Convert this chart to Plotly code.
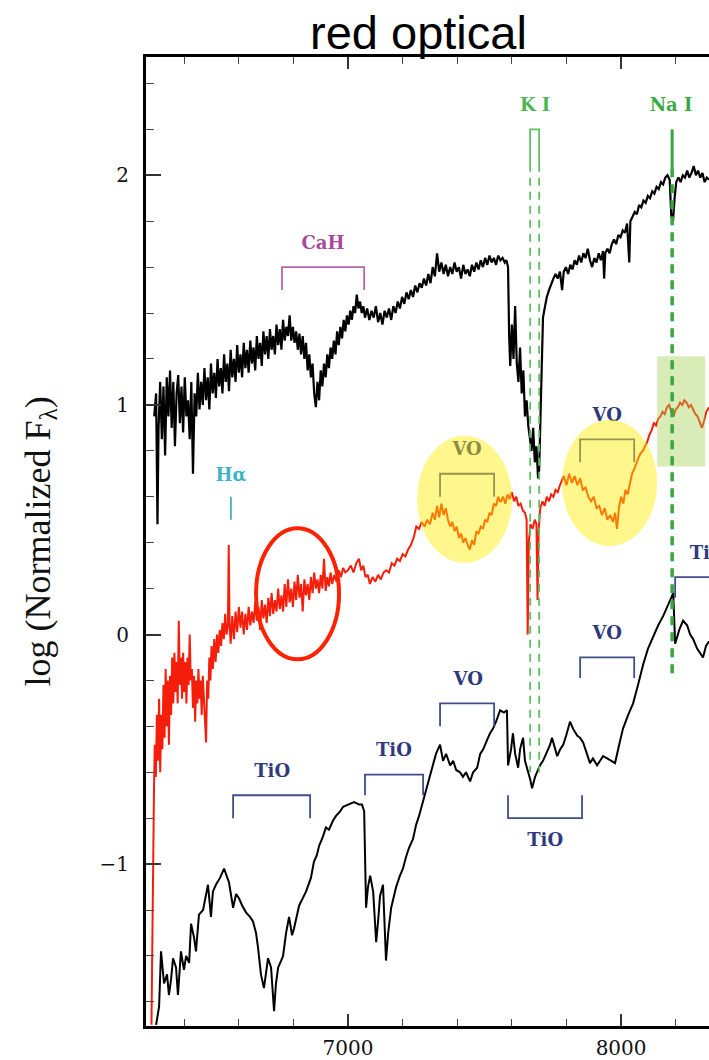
import plotly.graph_objects as go

# ---------------- data ----------------
TOP_WL = [6290,6297,6302,6306,6312,6318,6324,6330,6336,6342,6348,6354,6360,6366,6372,6378,6384,6390,6396,6402,
          6408,6414,6420,6426,6432,6438,6444,6450,6456,6462,6468,6474,6480,6486,6492,6498,6504,6510,6516,6522,
          6528,6534,6540,6546,6552,6558,6564,6570,6576,6582,6588,6594,6600,6606,6612,6618,6624,6630,6636,6642,
          6648,6654,6660,6666,6672,6678,6684,6690,6696,6702,6708,6714,6720,6726,6732,6738,6744,6750,6756,6762,
          6768,6774,6780,6786,6792,6798,6804,6810,6816,6822,6828,6834,6840,6846,6852,6858,6864,6870,6876,6882,
          6888,6894,6900,6906,6912,6918,6924,6930,6936,6942,6948,6954,6960,6966,6972,6978,6984,6990,6996,7002,
          7008,7014,7020,7026,7032,7038,7044,7050,7056,7062,7070,7078,7086,7094,7102,7110,7118,7126,7134,7142,
          7150,7158,7166,7174,7182,7190,7198,7206,7214,7222,7230,7238,7246,7254,7262,7270,7278,7286,7294,7302,
          7310,7318,7326,7334,7342,7350,7358,7366,7374,7382,7390,7398,7406,7414,7422,7430,7438,7446,7454,7462,
          7470,7478,7486,7494,7502,7510,7518,7526,7534,7542,7550,7558,7566,7574,7580,7586,7590,7594,7600,7606,
          7612,7618,7624,7630,7636,7642,7648,7654,7660,7666,7672,7678,7684,7690,7696,7700,7705,7710,7714,7720,
          7728,7736,7744,7752,7760,7768,7776,7784,7790,7798,7806,7814,7822,7830,7838,7846,7854,7862,7870,7878,
          7886,7894,7902,7910,7918,7926,7934,7938,7942,7950,7958,7966,7974,7982,7990,7998,8006,8014,8022,8030,
          8034,8042,8050,8058,8066,8074,8082,8090,8098,8106,8114,8122,8130,8138,8146,8154,8162,8170,8178,8184,
          8190,8196,8202,8210,8218,8226,8234,8242,8250,8258,8266,8274,8282,8290,8298,8306,8314,8322]
TOP_FLUX = [0.95,1.05,0.48,0.90,1.10,0.85,1.08,0.78,1.12,0.95,1.15,0.90,1.10,0.82,1.05,1.13,0.92,1.08,0.88,1.12,
            0.95,1.02,0.85,1.10,0.70,1.05,0.95,1.14,0.98,1.10,1.00,1.16,1.02,1.12,0.98,1.18,1.05,1.14,1.03,1.20,
            1.08,1.16,1.05,1.22,1.10,1.18,1.06,1.24,1.12,1.20,1.10,1.26,1.14,1.22,1.12,1.27,1.16,1.24,1.14,1.28,
            1.18,1.25,1.15,1.30,1.20,1.27,1.17,1.32,1.22,1.30,1.20,1.33,1.24,1.30,1.22,1.35,1.26,1.33,1.24,1.37,
            1.28,1.34,1.30,1.39,1.28,1.34,1.27,1.32,1.24,1.31,1.22,1.30,1.20,1.27,1.15,1.22,1.12,1.18,1.05,0.99,
            1.10,1.02,1.15,1.08,1.18,1.12,1.22,1.16,1.25,1.20,1.28,1.22,1.32,1.26,1.34,1.29,1.37,1.32,1.39,1.35,
            1.41,1.37,1.43,1.40,1.48,1.42,1.45,1.40,1.43,1.38,1.42,1.37,1.41,1.38,1.43,1.36,1.40,1.35,1.41,1.38,
            1.42,1.37,1.43,1.40,1.45,1.42,1.47,1.44,1.49,1.46,1.50,1.47,1.52,1.49,1.53,1.51,1.55,1.52,1.57,1.53,
            1.60,1.56,1.66,1.58,1.62,1.57,1.61,1.56,1.60,1.57,1.62,1.58,1.60,1.55,1.61,1.57,1.59,1.56,1.61,1.58,
            1.62,1.59,1.63,1.60,1.64,1.61,1.65,1.62,1.64,1.61,1.65,1.63,1.64,1.62,1.63,1.60,1.30,1.17,1.35,1.20,
            1.43,1.18,1.10,1.25,1.05,1.15,0.95,1.02,0.91,0.85,0.80,0.90,0.75,0.82,0.68,0.72,0.95,1.20,1.38,1.42,
            1.47,1.50,1.53,1.55,1.57,1.55,1.58,1.50,1.58,1.60,1.57,1.61,1.59,1.63,1.61,1.65,1.62,1.66,1.64,1.68,
            1.63,1.60,1.64,1.62,1.66,1.63,1.67,1.55,1.66,1.68,1.66,1.70,1.72,1.70,1.74,1.73,1.76,1.75,1.79,1.62,
            1.80,1.82,1.84,1.83,1.87,1.86,1.89,1.88,1.91,1.90,1.93,1.92,1.95,1.94,1.97,1.96,1.99,2.00,1.98,1.82,
            1.80,1.90,1.97,1.99,1.97,2.00,1.99,2.02,1.99,2.01,2.04,2.00,2.02,1.99,2.01,1.97,1.99,1.98]

MID_WL = [6280,6283,6286,6289,6292,6296,6300,6304,6308,6312,6316,6320,6324,6328,6332,6336,6340,6344,6348,6352,
          6356,6360,6364,6368,6372,6376,6380,6384,6388,6392,6396,6400,6404,6408,6412,6416,6420,6424,6428,6432,
          6436,6440,6444,6448,6452,6456,6460,6464,6468,6472,6476,6480,6484,6488,6492,6496,6500,6505,6510,6515,
          6520,6525,6530,6535,6540,6545,6550,6555,6560,6563,6566,6570,6576,6582,6588,6594,6600,6606,6612,6618,
          6624,6630,6636,6642,6648,6654,6660,6666,6672,6678,6684,6690,6696,6702,6708,6714,6720,6726,6732,6738,
          6744,6750,6756,6762,6768,6774,6780,6786,6792,6798,6804,6810,6816,6822,6828,6834,6840,6846,6852,6858,
          6864,6870,6876,6882,6888,6894,6900,6906,6912,6918,6924,6930,6936,6942,6950,6958,6966,6974,6982,6990,
          7000,7010,7020,7030,7040,7048,7056,7064,7072,7080,7090,7100,7110,7120,7130,7140,7150,7160,7170,7180,
          7190,7200,7210,7220,7230,7240,7250,7260,7270,7280,7290,7300,7310,7318,7326,7334,7342,7350,7358,7366,
          7374,7382,7390,7398,7406,7414,7422,7430,7438,7446,7454,7462,7470,7478,7486,7494,7502,7510,7518,7526,
          7534,7542,7550,7556,7560,7568,7576,7584,7592,7600,7608,7616,7624,7632,7640,7648,7654,7658,7662,7668,
          7676,7684,7690,7694,7698,7704,7712,7720,7728,7736,7744,7752,7760,7768,7776,7780,7790,7800,7810,7820,
          7830,7840,7850,7860,7870,7880,7890,7900,7910,7920,7930,7940,7950,7960,7970,7978,7985,7992,8000,8008,
          8016,8024,8032,8040,8048,8056,8064,8072,8080,8088,8096,8104,8112,8120,8128,8136,8144,8152,8160,8168,
          8176,8184,8192,8200,8208,8216,8224,8232,8240,8248,8256,8264,8272,8280,8288,8296,8304,8312,8322]
MID_FLUX = [-1.70,-1.30,-0.95,-0.70,-0.48,-0.62,-0.35,-0.55,-0.28,-0.60,-0.35,-0.50,-0.22,-0.45,-0.15,-0.40,-0.20,-0.48,-0.18,-0.35,
            -0.10,-0.30,-0.08,-0.25,-0.12,-0.30,0.06,-0.22,-0.10,-0.28,-0.08,-0.25,-0.12,-0.30,-0.10,-0.22,0.00,-0.20,-0.15,-0.32,
            -0.18,-0.38,-0.20,-0.30,-0.15,-0.28,-0.20,-0.35,-0.18,-0.30,-0.40,-0.47,-0.20,-0.28,-0.10,-0.20,-0.05,-0.15,-0.02,-0.12,
            0.00,-0.08,0.02,-0.05,0.05,-0.02,0.09,0.00,0.04,0.39,0.05,-0.04,0.08,-0.02,0.10,0.01,0.12,0.03,0.10,0.00,
            0.09,0.02,0.12,0.04,0.10,0.05,0.14,0.06,0.12,0.02,0.15,0.07,0.13,0.05,0.16,0.08,0.18,0.09,0.15,0.10,
            0.20,0.11,0.17,0.10,0.22,0.12,0.24,0.14,0.20,0.12,0.23,0.15,0.26,0.16,0.22,0.10,0.24,0.17,0.22,0.15,
            0.25,0.18,0.27,0.20,0.24,0.18,0.26,0.20,0.33,0.19,0.25,0.21,0.27,0.22,0.26,0.23,0.28,0.25,0.29,0.27,
            0.28,0.30,0.27,0.31,0.33,0.28,0.30,0.25,0.26,0.22,0.25,0.23,0.26,0.24,0.27,0.28,0.27,0.31,0.30,0.33,
            0.32,0.35,0.34,0.37,0.39,0.42,0.47,0.46,0.49,0.47,0.50,0.48,0.53,0.50,0.56,0.51,0.57,0.52,0.55,0.50,
            0.47,0.49,0.45,0.47,0.42,0.44,0.40,0.42,0.39,0.37,0.41,0.39,0.45,0.44,0.47,0.46,0.50,0.49,0.53,0.52,
            0.57,0.56,0.60,0.58,0.58,0.60,0.57,0.61,0.59,0.62,0.58,0.60,0.56,0.57,0.54,0.53,0.50,0.00,0.40,0.48,
            0.46,0.50,0.48,0.15,0.45,0.55,0.58,0.56,0.60,0.58,0.61,0.60,0.63,0.62,0.65,0.66,0.69,0.65,0.70,0.66,
            0.69,0.65,0.68,0.63,0.64,0.60,0.58,0.60,0.55,0.56,0.52,0.55,0.50,0.52,0.49,0.53,0.46,0.55,0.60,0.57,
            0.63,0.61,0.65,0.70,0.72,0.75,0.77,0.79,0.80,0.82,0.84,0.87,0.89,0.92,0.91,0.94,0.95,0.97,0.96,0.99,
            1.00,0.97,0.95,0.98,0.99,1.01,1.00,1.02,1.01,0.99,1.00,0.98,0.96,0.95,0.92,0.90,0.93,0.97,0.99]

BOT_WL = [6297,6308,6315,6326,6337,6344,6352,6359,6370,6377,6388,6399,6407,6418,6425,6436,6443,6454,6469,6480,
          6487,6498,6505,6516,6531,6546,6564,6579,6590,6601,6612,6626,6641,6652,6663,6670,6681,6692,6700,6707,
          6718,6729,6736,6744,6755,6762,6773,6784,6795,6802,6821,6832,6846,6864,6875,6886,6894,6908,6919,6930,
          6945,6956,6971,6982,7004,7022,7040,7051,7059,7066,7073,7081,7092,7103,7110,7117,7128,7139,7147,7158,
          7168,7176,7190,7201,7212,7223,7238,7249,7260,7271,7282,7289,7300,7311,7322,7337,7348,7359,7374,7385,
          7396,7410,7421,7432,7447,7458,7473,7484,7495,7509,7520,7531,7542,7557,7571,7582,7586,7597,7604,7612,
          7623,7630,7641,7648,7656,7667,7674,7685,7703,7714,7729,7740,7747,7758,7766,7777,7788,7799,7813,7824,
          7839,7850,7861,7875,7886,7897,7912,7923,7934,7949,7963,7978,7993,8007,8026,8044,8062,8081,8099,8117,
          8136,8154,8172,8191,8198,8213,8227,8242,8253,8264,8278,8289,8300,8311,8322]
BOT_FLUX = [-1.70,-1.62,-1.38,-1.52,-1.48,-1.57,-1.50,-1.41,-1.45,-1.57,-1.38,-1.46,-1.40,-1.43,-1.26,-1.32,-1.38,-1.22,-1.20,-1.14,
            -1.09,-1.23,-1.12,-1.09,-1.06,-1.02,-1.08,-1.19,-1.13,-1.15,-1.18,-1.21,-1.23,-1.25,-1.30,-1.36,-1.48,-1.54,-1.47,-1.41,
            -1.45,-1.64,-1.52,-1.45,-1.42,-1.40,-1.30,-1.23,-1.31,-1.28,-1.18,-1.15,-1.12,-1.06,-0.99,-0.96,-0.92,-0.88,-0.84,-0.85,
            -0.81,-0.79,-0.77,-0.75,-0.74,-0.73,-0.74,-0.74,-0.77,-1.19,-1.10,-1.05,-1.12,-1.34,-1.25,-1.14,-1.09,-1.42,-1.30,-1.19,
            -1.14,-1.10,-1.05,-1.02,-0.97,-0.93,-0.89,-0.83,-0.79,-0.74,-0.70,-0.66,-0.62,-0.56,-0.52,-0.48,-0.55,-0.52,-0.57,-0.55,
            -0.59,-0.60,-0.62,-0.60,-0.64,-0.60,-0.58,-0.52,-0.50,-0.46,-0.43,-0.41,-0.38,-0.33,-0.34,-0.33,-0.57,-0.50,-0.43,-0.52,
            -0.58,-0.50,-0.45,-0.55,-0.58,-0.63,-0.67,-0.62,-0.57,-0.55,-0.51,-0.48,-0.45,-0.50,-0.53,-0.50,-0.48,-0.44,-0.38,-0.41,
            -0.44,-0.45,-0.47,-0.52,-0.56,-0.54,-0.57,-0.55,-0.53,-0.54,-0.55,-0.56,-0.48,-0.41,-0.35,-0.30,-0.22,-0.13,-0.06,-0.01,
            0.04,0.08,0.13,0.18,-0.04,0.02,0.06,0.04,0.00,-0.02,-0.06,-0.08,-0.10,-0.05,-0.03]

# feature labels (text, wavelength, level, colour)
LABEL_TEXT = ["Hα", "CaH", "K I", "Na I", "VO", "VO", "TiO", "TiO", "VO", "TiO", "VO", "TiO"]
LABEL_WL = [6571, 6908, 7685, 8183, 7436, 7949, 6722, 7168, 7440, 7722, 7949, 8317]
LABEL_Y = [0.69, 1.70, 2.30, 2.30, 0.80, 0.95, -0.60, -0.51, -0.20, -0.90, 0.00, 0.35]
LABEL_COLOR = ["#3cb4c6", "#a8489a", "#4cb655", "#3aab44", "#2f3a7c", "#2f3a7c",
               "#2f3a7c", "#2f3a7c", "#2f3a7c", "#2f3a7c", "#2f3a7c", "#2f3a7c"]

# band brackets: start, end, bar level, tip level
BRACKET_START = [6758, 7337, 7850, 6579, 7062, 7337, 7586, 7850, 8198]
BRACKET_END = [7059, 7535, 8048, 6861, 7275, 7535, 7857, 8048, 8450]
BRACKET_BAR = [1.60, 0.70, 0.85, -0.70, -0.61, -0.30, -0.80, -0.10, 0.25]
BRACKET_TIP = [1.50, 0.60, 0.75, -0.80, -0.70, -0.40, -0.70, -0.19, 0.16]
BRACKET_COLOR = ["#b866a8", "#3f4d8c", "#3f4d8c", "#3f4d8c", "#3f4d8c", "#3f4d8c",
                 "#3f4d8c", "#3f4d8c", "#3f4d8c"]

KI_WL = [7667, 7700]
NAI_WL = 8187
HALPHA_WL = 6571

X_RANGE = [6260, 8322]
Y_RANGE = [-1.705, 2.515]
X_TICKS = [7000, 8000]
X_TICKTEXT = ["7000", "8000"]
Y_TICKS = [-1, 0, 1, 2]
Y_TICKTEXT = ["\u22121", "0", "1", "2"]

# ---------------- figure ----------------
fig = go.Figure()
fig.add_trace(go.Scatter(x=TOP_WL, y=TOP_FLUX, mode="lines",
                         line=dict(color="black", width=2.2), hoverinfo="skip"))
fig.add_trace(go.Scatter(x=MID_WL, y=MID_FLUX, mode="lines",
                         line=dict(color="#f41e0a", width=2.0), hoverinfo="skip"))
fig.add_trace(go.Scatter(x=BOT_WL, y=BOT_FLUX, mode="lines",
                         line=dict(color="black", width=2.0), hoverinfo="skip"))
fig.add_trace(go.Scatter(x=LABEL_WL, y=LABEL_Y, text=LABEL_TEXT, mode="text",
                         textfont=dict(family="DejaVu Serif", size=18, color=LABEL_COLOR, weight="bold"),
                         hoverinfo="skip"))

shapes = []
for a, b, bar, tip, col in zip(BRACKET_START, BRACKET_END, BRACKET_BAR, BRACKET_TIP, BRACKET_COLOR):
    shapes.append(dict(type="path", xref="x", yref="y", layer="above",
                       path=f"M {a},{tip} L {a},{bar} L {b},{bar} L {b},{tip}",
                       line=dict(color=col, width=1.8)))
# H-alpha tick
shapes.append(dict(type="line", xref="x", yref="y", layer="above",
                   x0=HALPHA_WL, x1=HALPHA_WL, y0=0.50, y1=0.60,
                   line=dict(color="#3cb4c6", width=1.8)))
# yellow highlight ellipses
shapes.append(dict(type="circle", xref="x", yref="y", layer="above",
                   x0=7253, x1=7601, y0=0.312, y1=0.866,
                   fillcolor="rgba(255,238,0,0.45)", line=dict(width=0)))
shapes.append(dict(type="circle", xref="x", yref="y", layer="above",
                   x0=7784, x1=8132, y0=0.385, y1=0.935,
                   fillcolor="rgba(255,238,0,0.45)", line=dict(width=0)))
# green highlight box
shapes.append(dict(type="rect", xref="x", yref="y", layer="above",
                   x0=8132, x1=8308, y0=0.732, y1=1.212,
                   fillcolor="rgba(165,208,80,0.42)", line=dict(width=0)))
# K I doublet marker
shapes.append(dict(type="path", xref="x", yref="y", layer="above",
                   path=f"M {KI_WL[0]},2.05 L {KI_WL[0]},2.20 L {KI_WL[1]},2.20 L {KI_WL[1]},2.05",
                   line=dict(color="#5cbf62", width=1.8)))
for w in KI_WL:
    shapes.append(dict(type="line", xref="x", yref="y", layer="above",
                       x0=w, x1=w, y0=2.05, y1=-0.60,
                       line=dict(color="#5cbf62", width=1.8, dash="8px,6px")))
# Na I marker
shapes.append(dict(type="line", xref="x", yref="y", layer="above",
                   x0=NAI_WL, x1=NAI_WL, y0=2.20, y1=2.03,
                   line=dict(color="#34a83c", width=3)))
shapes.append(dict(type="line", xref="x", yref="y", layer="above",
                   x0=NAI_WL, x1=NAI_WL, y0=2.03, y1=-0.19,
                   line=dict(color="#34a83c", width=3.5, dash="9px,7px")))
# red ellipse outline
shapes.append(dict(type="circle", xref="x", yref="y", layer="above",
                   x0=6663, x1=6967, y0=-0.108, y1=0.463,
                   line=dict(color="#ff2200", width=4)))

PLOT_L, PLOT_R, PLOT_T, PLOT_B = 146, 709, 57, 1032
W, H = 709, 1060

fig.update_layout(
    width=W, height=H,
    margin=dict(l=PLOT_L, r=W - PLOT_R, t=PLOT_T, b=H - PLOT_B, pad=0),
    paper_bgcolor="white", plot_bgcolor="white",
    showlegend=False,
    shapes=shapes,
    xaxis=dict(range=X_RANGE, tickvals=X_TICKS, ticktext=X_TICKTEXT,
               showgrid=False, zeroline=False, showline=True, linecolor="black", linewidth=3,
               mirror="ticks", ticks="inside", ticklen=12, tickwidth=1.5, tickcolor="#333",
               minor=dict(dtick=200, ticks="inside", ticklen=7, tickwidth=1.3, tickcolor="#444", showgrid=False),
               tickfont=dict(family="DejaVu Serif", size=20, color="#111"), ticklabelstandoff=2),
    yaxis=dict(range=Y_RANGE, tickvals=Y_TICKS, ticktext=Y_TICKTEXT,
               showgrid=False, zeroline=False, showline=True, linecolor="black", linewidth=3,
               mirror=False, ticks="inside", ticklen=15, tickwidth=1.5, tickcolor="#333",
               minor=dict(dtick=0.2, ticks="inside", ticklen=8, tickwidth=1.3, tickcolor="#444", showgrid=False),
               tickfont=dict(family="DejaVu Serif", size=20, color="#111"), ticklabelstandoff=10),
    annotations=[
        dict(text="red optical", xref="paper", yref="paper",
             x=(418 - PLOT_L) / (PLOT_R - PLOT_L), y=(PLOT_B - 32) / (PLOT_B - PLOT_T),
             xanchor="center", yanchor="middle", showarrow=False,
             font=dict(family="Liberation Sans", size=47, color="black")),
        dict(text="log (Normalized F<sub>λ</sub>)", xref="paper", yref="paper",
             x=(40 - PLOT_L) / (PLOT_R - PLOT_L), y=0.5, textangle=-90,
             xanchor="center", yanchor="middle", showarrow=False,
             font=dict(family="Liberation Serif", size=36, color="#111")),
    ],
)

fig.write_html("out.html")
